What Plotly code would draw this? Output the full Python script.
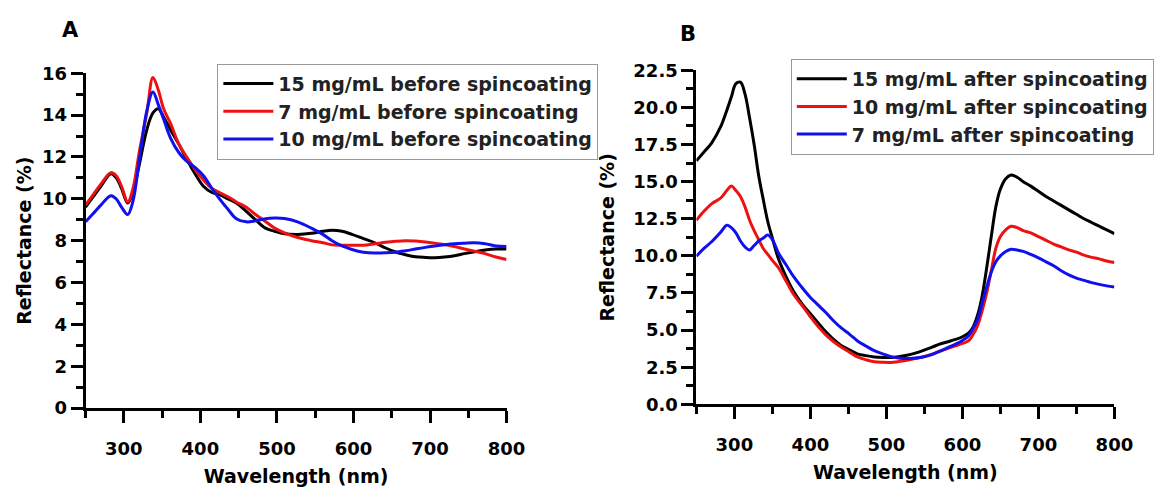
import plotly.graph_objects as go

# ---------------- Panel A: before spincoating ----------------
wl_a = [250, 260, 270, 283, 290, 297, 305, 312, 320, 330, 338, 345, 352, 361, 372, 382,
        393, 404, 415, 425, 436, 447, 460, 472, 485, 497, 510, 527, 545, 560, 572, 585,
        598, 613, 628, 642, 655, 668, 681, 694, 706, 719, 732, 745, 758, 772, 786, 800]
a_15 = [9.6, 10.1, 10.6, 11.2, 11.0, 10.5, 9.8, 10.3, 11.6, 13.3, 14.1, 14.3, 13.9, 13.3, 12.6, 11.9,
        11.2, 10.6, 10.3, 10.2, 10.0, 9.8, 9.4, 9.0, 8.6, 8.45, 8.33, 8.3, 8.35, 8.45, 8.5, 8.45,
        8.3, 8.1, 7.9, 7.65, 7.46, 7.33, 7.23, 7.2, 7.19, 7.22, 7.28, 7.38, 7.47, 7.55, 7.6, 7.6]
a_7 = [9.7, 10.2, 10.7, 11.25, 11.1, 10.6, 9.85, 10.5, 12.2, 14.1, 15.8, 15.2, 14.3, 13.6, 12.6, 12.0,
       11.4, 10.9, 10.5, 10.3, 10.1, 9.85, 9.6, 9.25, 8.92, 8.6, 8.37, 8.15, 8.0, 7.9, 7.8, 7.78,
       7.78, 7.78, 7.85, 7.92, 7.97, 8.0, 7.98, 7.94, 7.88, 7.82, 7.72, 7.6, 7.5, 7.38, 7.22, 7.1]
a_10 = [8.9, 9.3, 9.7, 10.15, 10.0, 9.6, 9.25, 9.9, 11.8, 14.2, 15.1, 14.5, 13.8, 12.9, 12.2, 11.8,
        11.5, 11.1, 10.5, 10.0, 9.5, 9.05, 8.9, 8.95, 9.05, 9.08, 9.06, 8.9, 8.6, 8.3, 8.0, 7.75,
        7.58, 7.45, 7.41, 7.42, 7.45, 7.52, 7.6, 7.68, 7.74, 7.8, 7.85, 7.88, 7.9, 7.85, 7.75, 7.72]

# ---------------- Panel B: after spincoating ----------------
wl_b = [250, 260, 270, 282, 290, 296, 302, 308, 314, 320, 326, 332, 338, 344, 350, 358, 368, 378,
        390, 400, 410, 420, 430, 441, 452, 462, 473, 484, 495, 505, 516, 527, 538, 548, 560, 570,
        580, 591, 600, 608, 614, 620, 626, 632, 638, 644, 650, 657, 664, 672, 680, 690, 700, 710,
        720, 730, 740, 750, 760, 770, 780, 790, 800]
b_15 = [16.4, 17.0, 17.6, 18.7, 19.8, 20.7, 21.6, 21.7, 20.9, 19.3, 17.5, 15.4, 13.8, 12.3, 11.2, 9.8, 8.6, 7.6,
        6.7, 6.1, 5.5, 4.9, 4.4, 3.94, 3.65, 3.4, 3.28, 3.19, 3.15, 3.15, 3.2, 3.3, 3.45, 3.62, 3.85, 4.05,
        4.2, 4.37, 4.55, 4.8, 5.2, 6.0, 7.3, 9.2, 11.3, 13.3, 14.5, 15.2, 15.45, 15.3, 15.0, 14.7, 14.35, 14.0,
        13.7, 13.4, 13.1, 12.8, 12.5, 12.25, 12.0, 11.75, 11.5]
b_10 = [12.4, 13.0, 13.5, 13.9, 14.4, 14.7, 14.4, 14.0, 13.3, 12.4, 11.7, 11.1, 10.5, 10.1, 9.7, 9.2, 8.3, 7.4,
        6.6, 5.9, 5.25, 4.7, 4.25, 3.84, 3.5, 3.19, 3.0, 2.87, 2.83, 2.82, 2.88, 2.97, 3.08, 3.19, 3.38, 3.58,
        3.75, 3.94, 4.1, 4.27, 4.7, 5.3, 6.3, 7.5, 9.0, 10.5, 11.3, 11.75, 12.0, 11.9, 11.7, 11.55, 11.3, 11.05,
        10.8, 10.6, 10.4, 10.25, 10.05, 9.9, 9.8, 9.65, 9.55]
b_7 = [9.98, 10.5, 10.95, 11.6, 12.07, 11.9, 11.55, 11.0, 10.6, 10.4, 10.7, 11.0, 11.2, 11.4, 11.1, 10.2, 9.4, 8.6,
       7.8, 7.2, 6.7, 6.2, 5.65, 5.13, 4.7, 4.27, 3.93, 3.62, 3.4, 3.23, 3.12, 3.08, 3.12, 3.19, 3.35, 3.56,
       3.8, 4.05, 4.3, 4.6, 5.1, 5.7, 6.8, 7.9, 8.9, 9.6, 10.0, 10.3, 10.45, 10.4, 10.3, 10.1, 9.87, 9.6,
       9.33, 9.0, 8.72, 8.5, 8.35, 8.2, 8.08, 7.98, 7.9]

names_a = ["15 mg/mL before spincoating", "7 mg/mL before spincoating", "10 mg/mL before spincoating"]
names_b = ["15 mg/mL after spincoating", "10 mg/mL after spincoating", "7 mg/mL after spincoating"]
colors = ["#000000", "#ee1111", "#1010ee"]

FONT = "DejaVu Sans"
fig = go.Figure()

for ys, nm, c in zip([a_15, a_7, a_10], names_a, colors):
    fig.add_trace(go.Scatter(x=wl_a, y=ys, name=nm, mode="lines", line=dict(color=c, width=3, shape="spline"),
                             xaxis="x", yaxis="y", legend="legend"))
for ys, nm, c in zip([b_15, b_10, b_7], names_b, colors):
    fig.add_trace(go.Scatter(x=wl_b, y=ys, name=nm, mode="lines", line=dict(color=c, width=3, shape="spline"),
                             xaxis="x2", yaxis="y2", legend="legend2"))

W, H = 1157, 488
axfont = dict(family=FONT, size=18, color="black", weight="bold")
titlefont = dict(family=FONT, size=19, color="black", weight="bold")

def xax(domain, anchor):
    return dict(domain=domain, anchor=anchor, range=[250, 800], tick0=300, dtick=100,
                showline=True, linecolor="black", linewidth=3, ticks="outside", ticklen=12, tickwidth=3,
                tickcolor="black", minor=dict(dtick=50, tick0=250, ticks="outside", ticklen=7, tickwidth=3, tickcolor="black"),
                showgrid=False, zeroline=False, tickfont=axfont, ticklabelstandoff=10,
                title=dict(text="Wavelength (nm)", font=titlefont, standoff=12))

def yax(domain, anchor, rng, dt, mdt, fmt, standoff):
    return dict(domain=domain, anchor=anchor, range=rng, tick0=0, dtick=dt, tickformat=fmt,
                showline=True, linecolor="black", linewidth=3, ticks="outside", ticklen=12, tickwidth=3,
                tickcolor="black", minor=dict(dtick=mdt, tick0=0, ticks="outside", ticklen=7, tickwidth=3, tickcolor="black"),
                showgrid=False, zeroline=False, tickfont=axfont,
                title=dict(text="Reflectance (%)", font=titlefont, standoff=standoff))

legfont = dict(family=FONT, size=19, color="#222222", weight="bold")
fig.update_layout(
    width=W, height=H, margin=dict(l=0, r=0, t=0, b=0),
    paper_bgcolor="white", plot_bgcolor="white",
    xaxis=xax([87 / W, 515 / W], "y"),
    yaxis=yax([(H - 415) / H, (H - 65) / H], "x", [0, 16], 2, 1, "d", 6),
    xaxis2=xax([708 / W, 1133 / W], "y2"),
    yaxis2=yax([(H - 411) / H, (H - 62) / H], "x2", [0, 22.5], 2.5, 1.25, ".1f", 14),
    legend=dict(x=221 / W, y=(H - 55) / H, xanchor="left", yanchor="top", bgcolor="white",
                bordercolor="#999999", borderwidth=1, font=legfont, itemwidth=50, tracegroupgap=0),
    legend2=dict(x=804 / W, y=(H - 50) / H, xanchor="left", yanchor="top", bgcolor="white",
                 bordercolor="#999999", borderwidth=1, font=legfont, itemwidth=50, tracegroupgap=0),
    annotations=[
        dict(text="A", x=72 / W, y=(H - 20) / H, xref="paper", yref="paper", showarrow=False,
             xanchor="center", yanchor="middle",
             font=dict(family=FONT, size=21, color="black", weight="bold")),
        dict(text="B", x=699 / W, y=(H - 24) / H, xref="paper", yref="paper", showarrow=False,
             xanchor="center", yanchor="middle",
             font=dict(family=FONT, size=21, color="black", weight="bold")),
    ],
    showlegend=True,
)

fig.write_html("out.html")
